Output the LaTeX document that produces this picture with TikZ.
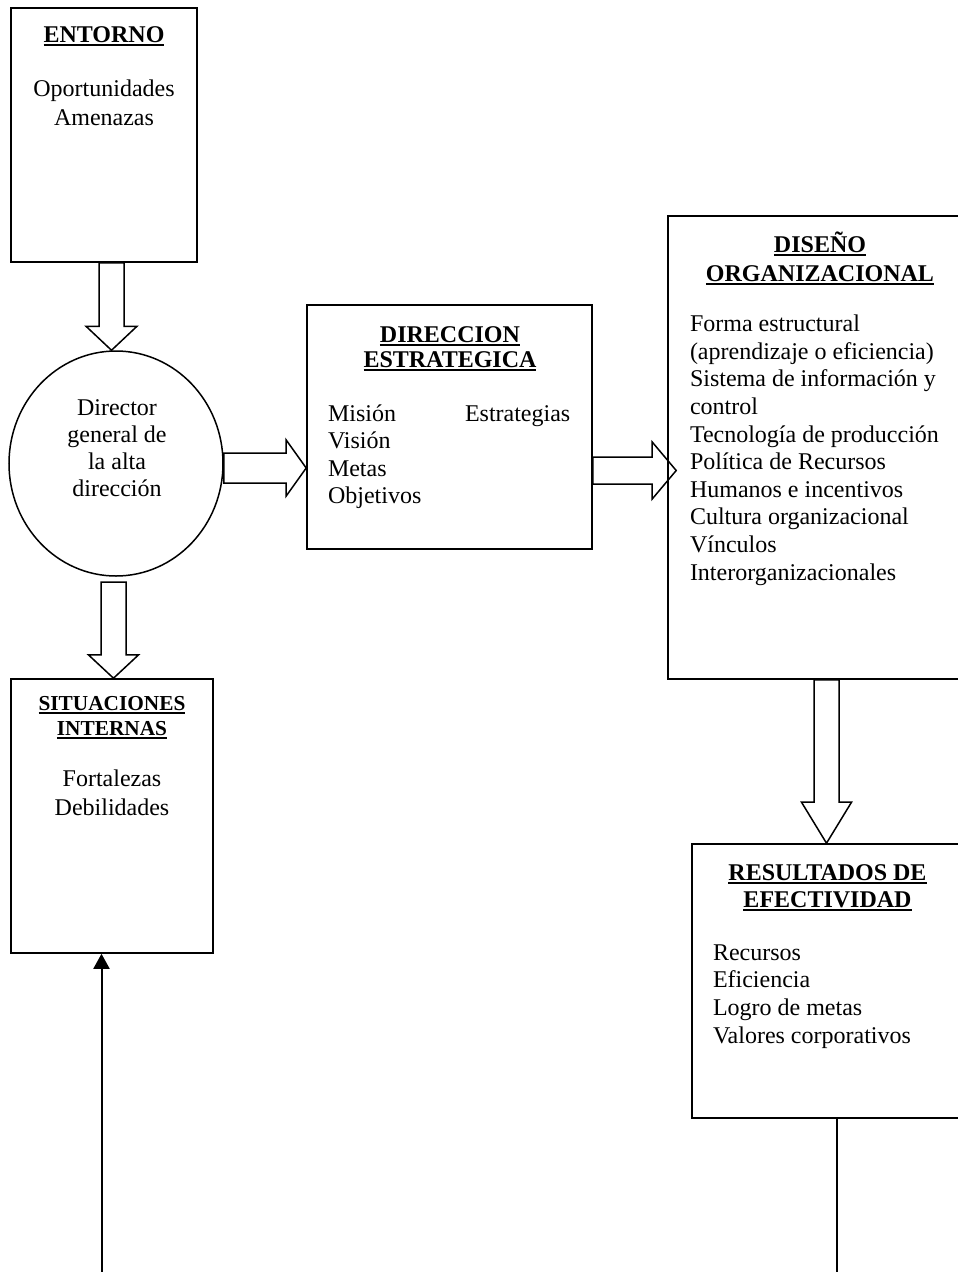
\documentclass[tikz,border=0pt]{standalone}
\usepackage{fontspec}
\setmainfont{Liberation Serif}
\usetikzlibrary{calc,shapes.geometric,arrows.meta}
\newcommand\hul[1]{\setbox0\hbox{#1}\rlap{\rule[-3.6pt]{\wd0}{2pt}}\box0}
\newcommand\cstack[1]{\begin{tabular}[t]{@{}c@{}}#1\end{tabular}}
\newcommand\lstack[1]{\begin{tabular}[t]{@{}l@{}}#1\end{tabular}}
\newcommand\fsz[2]{\fontsize{#1}{#2}\selectfont}
\newcommand\blkdown[5]{%
 \draw[barrow] let \p1=(#1), \p2=(#2) in
 (\x1-#3pt,\y1) -- (\x1-#3pt,\y2+#5pt) -- (\x1-#4pt,\y2+#5pt) -- (\x1,\y2)
 -- (\x1+#4pt,\y2+#5pt) -- (\x1+#3pt,\y2+#5pt) -- (\x1+#3pt,\y1) -- cycle;}
\newcommand\blkright[5]{%
 \draw[barrow] let \p1=(#1), \p2=(#2) in
 (\x1,\y1+#3pt) -- (\x2-#5pt,\y1+#3pt) -- (\x2-#5pt,\y1+#4pt) -- (\x2,\y1)
 -- (\x2-#5pt,\y1-#4pt) -- (\x2-#5pt,\y1-#3pt) -- (\x1,\y1-#3pt) -- cycle;}
\tikzset{
  box/.style={draw, rectangle, line width=1.6pt, inner sep=0pt},
  txt/.style={inner sep=0pt, outer sep=0pt},
  barrow/.style={line width=1.5pt, line join=miter},
}
\begin{document}
\begin{tikzpicture}[x=1pt,y=-1pt]
\useasboundingbox (0,0) rectangle (958,1272);
\clip (0,0) rectangle (958,1272);
\fill[white] (0,0) rectangle (958,1272);

% boxes
\node[box, minimum width=186pt, minimum height=254pt] (ent) at (104,135) {};
\node[box, minimum width=202pt, minimum height=274pt] (sit) at (112,816) {};
\node[box, minimum width=285pt, minimum height=244pt] (dir) at (449.5,427) {};
\node[box, minimum width=304pt, minimum height=463pt] (dis) at (820,447.5) {};
\node[box, minimum width=271pt, minimum height=274pt] (res) at (827.5,981) {};
\node[draw, ellipse, line width=1.5pt, minimum width=214pt, minimum height=225pt, inner sep=0pt] (circ) at (116,463.5) {};

% texts
\node[txt, anchor=base, font=\fsz{24}{28}] (enth) at (104,42.7) {\bfseries\hul{ENTORNO}};
\node[txt, anchor=base, font=\fsz{24}{28.3}] (entt) at (104,96.7) {\cstack{Oportunidades\\Amenazas}};

\node[txt, anchor=base, font=\fsz{24}{27.3}] (circt) at (117,415) {\cstack{Director\\general de\\la alta\\dirección}};

\node[txt, anchor=base, font=\fsz{21.3}{24.3}] (sith) at (112,710.7) {\bfseries\cstack{\hul{SITUACIONES}\\\hul{INTERNAS}}};
\node[txt, anchor=base, font=\fsz{24}{28.3}] (sitt) at (112,786.7) {\cstack{Fortalezas\\Debilidades}};

\node[txt, anchor=base, font=\fsz{24}{24.6}] (dirh) at (450,342.7) {\bfseries\cstack{\hul{DIRECCION}\\\hul{ESTRATEGICA}}};
\node[txt, anchor=base west, font=\fsz{24}{27.5}] (dirt) at (328,421) {\lstack{Misión\\Visión\\Metas\\Objetivos}};
\node[txt, anchor=base west, font=\fsz{24}{27.5}] (dirs) at (465,421) {Estrategias};

\node[txt, anchor=base, font=\fsz{24}{28.3}] (dish) at (820,252.7) {\bfseries\cstack{\hul{DISEÑO}\\\hul{ORGANIZACIONAL}}};
\node[txt, anchor=base west, font=\fsz{24}{27.6}] (dist) at (690,331.7) {\lstack{Forma estructural\\(aprendizaje o eficiencia)\\Sistema de información y\\control\\Tecnología de producción\\Política de Recursos\\Humanos e incentivos\\Cultura organizacional\\Vínculos\\Interorganizacionales}};

\node[txt, anchor=base, font=\fsz{24}{27.3}] (resh) at (827.5,880) {\bfseries\cstack{\hul{RESULTADOS DE}\\\hul{EFECTIVIDAD}}};
\node[txt, anchor=base west, font=\fsz{24}{27.8}] (rest) at (713,960) {\lstack{Recursos\\Eficiencia\\Logro de metas\\Valores corporativos}};

% helper coordinates
\coordinate (x1) at (111.5,0);
\coordinate (a1s) at (ent.south -| x1);
\coordinate (a2s) at (113.5,582);
\coordinate (y3) at (0,468);
\coordinate (a3s) at (circ.east |- y3);
\coordinate (y4) at (0,470.5);
\coordinate (a4s) at (dir.east |- y4);
\coordinate (a4t) at ($(dis.west)+(9,0)$);
\coordinate (x5) at (826.5,0);
\coordinate (a5s) at (dis.south -| x5);

% block arrows
\blkdown{a1s}{circ.north}{12.5}{25.5}{24}
\blkdown{a2s}{sit.north}{12.5}{25}{23.3}
\blkright{a3s}{dir.west}{15}{28}{20}
\blkright{a4s}{a4t}{13.5}{28.5}{24}
\blkdown{a5s}{res.north}{12.5}{25}{41}

% feedback lines
\coordinate (lb) at (101.5,1272);
\draw[line width=2pt, -{Triangle[width=16pt,length=15pt]}] (lb) -- (lb |- sit.south);
\coordinate (rb) at (837,1272);
\draw[line width=1.5pt] (rb |- res.south) -- (rb);
\end{tikzpicture}
\end{document}
